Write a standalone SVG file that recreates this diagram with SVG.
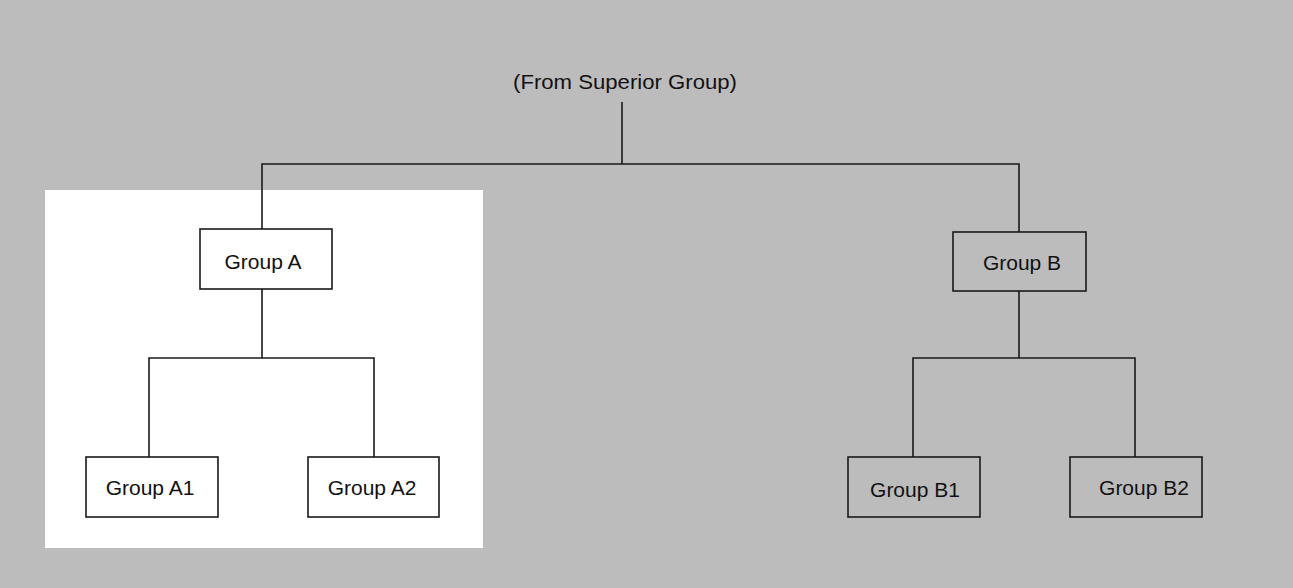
<svg xmlns="http://www.w3.org/2000/svg" width="1293" height="588" viewBox="0 0 1293 588">
<style>
.bg{fill:#bcbcbc}
.box{stroke:#1a1a1a;stroke-width:1.6}
.wbox{fill:#ffffff}
.gbox{fill:none}
.lbl{font-family:"Liberation Sans",Arial,sans-serif;font-size:21px;fill:#111;text-anchor:middle}
.conn line,.conn polyline{stroke:#1a1a1a;stroke-width:1.6;fill:none}
</style>
<rect class="bg" x="0" y="0" width="1293" height="588"/>
<rect id="panel" x="45" y="190" width="438" height="358" fill="#ffffff"/>
<g id="top-label">
<text class="lbl" x="625" y="89" textLength="224" lengthAdjust="spacingAndGlyphs">(From Superior Group)</text>
</g>
<g class="conn" id="connectors">
<line x1="622" y1="102" x2="622" y2="164"/>
<polyline points="262,229 262,164 1019,164 1019,232"/>
<line x1="262" y1="289" x2="262" y2="358"/>
<polyline points="149,457 149,358 374,358 374,457"/>
<line x1="1019" y1="291" x2="1019" y2="358"/>
<polyline points="913,457 913,358 1135,358 1135,457"/>
</g>
<g id="groupA">
<rect class="box wbox" x="200" y="229" width="132" height="60"/>
<text class="lbl" x="263" y="269">Group A</text>
</g>
<g id="groupA1">
<rect class="box wbox" x="86" y="457" width="132" height="60"/>
<text class="lbl" x="150" y="495">Group A1</text>
</g>
<g id="groupA2">
<rect class="box wbox" x="308" y="457" width="131" height="60"/>
<text class="lbl" x="372" y="495">Group A2</text>
</g>
<g id="groupB">
<rect class="box gbox" x="953" y="232" width="133" height="59"/>
<text class="lbl" x="1022" y="270">Group B</text>
</g>
<g id="groupB1">
<rect class="box gbox" x="848" y="457" width="132" height="60"/>
<text class="lbl" x="915" y="497">Group B1</text>
</g>
<g id="groupB2">
<rect class="box gbox" x="1070" y="457" width="132" height="60"/>
<text class="lbl" x="1144" y="495">Group B2</text>
</g>
</svg>
